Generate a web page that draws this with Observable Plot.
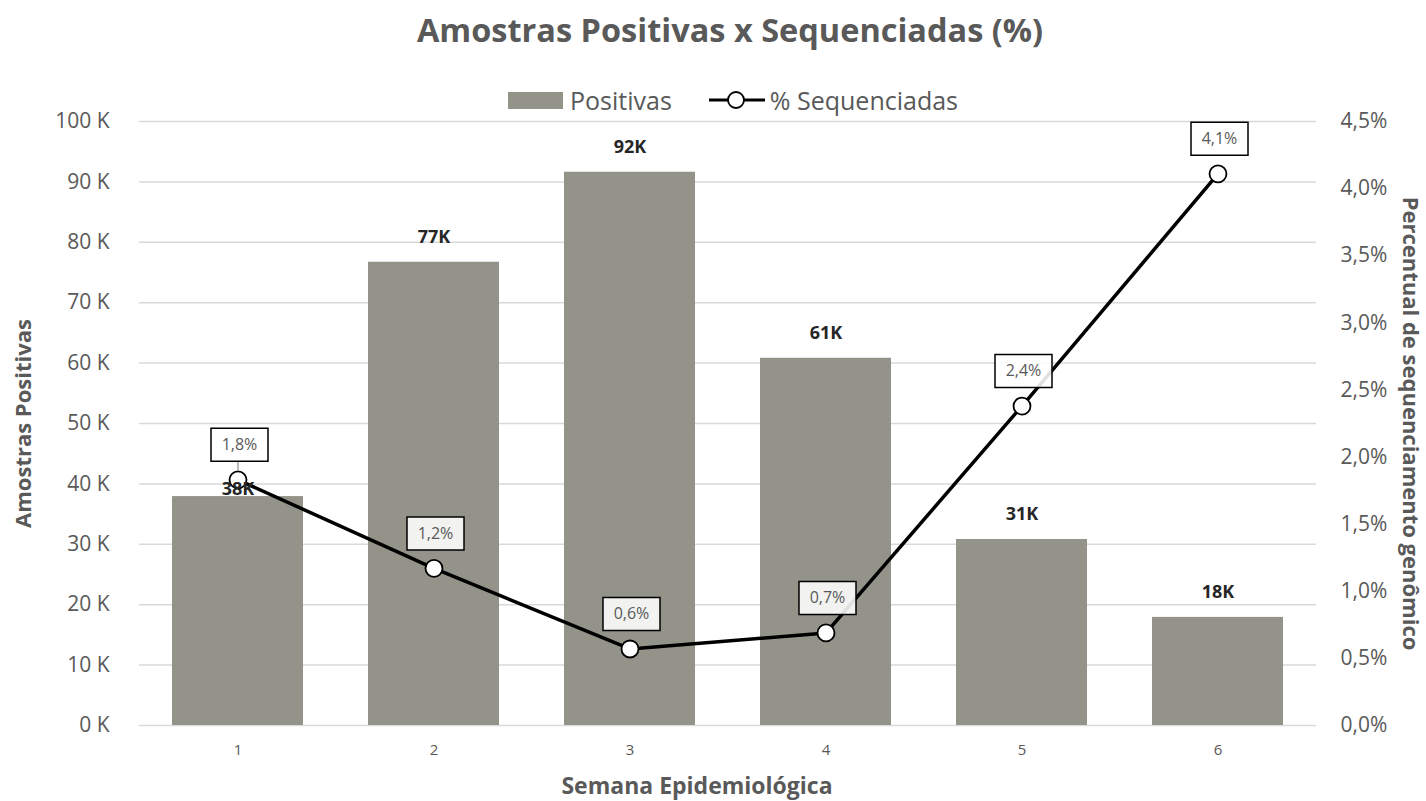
<!DOCTYPE html>
<html>
<head>
<meta charset="utf-8">
<script src="https://cdn.jsdelivr.net/npm/d3@7"></script>
<script src="https://cdn.jsdelivr.net/npm/@observablehq/plot@0.6"></script>
<style>
  body { margin: 0; background: #fff; font-family: "Open Sans", sans-serif; }
  #wrap { position: relative; width: 1426px; height: 801px; overflow: hidden; }
  #title { position: absolute; left: 0; top: 0; width: 1426px; height: 60px; line-height: 60px; text-align: center; font-weight: 700; font-size: 32.5px; color: #595959; padding-left: 34px; box-sizing: border-box; }
  #legend { position: absolute; left: 508px; top: 86px; height: 28px; display: flex; align-items: center; font-size: 25px; color: #595959; white-space: nowrap; z-index: 2; }
  #legend .sw { display: inline-block; width: 55px; height: 17px; background: #939389; margin-right: 7px; }
  #legend svg { margin-left: 36px; margin-right: 4px; }
  #chart { position: absolute; left: 0; top: 60px; }
</style>
</head>
<body>
<div id="wrap">
<div id="title">Amostras Positivas x Sequenciadas (%)</div>
<div id="legend"><span class="sw"></span><span>Positivas</span><svg width="58" height="20"><line x1="1" y1="10" x2="57" y2="10" stroke="#000" stroke-width="3.2"/><circle cx="28" cy="10" r="8" fill="#fff" stroke="#000" stroke-width="1.8"/></svg><span>% Sequenciadas</span></div>
<div id="chart"></div>
</div>
<script>
const weeks = [1, 2, 3, 4, 5, 6];
const positivas = [37900, 76700, 91600, 60800, 30800, 17900];
const positivasLabels = ["38K", "77K", "92K", "61K", "31K", "18K"];
const sequenciadas = [1.83, 1.17, 0.57, 0.69, 2.38, 4.11];
const sequenciadasLabels = ["1,8%", "1,2%", "0,6%", "0,7%", "2,4%", "4,1%"];
const leftTicks = [0, 10000, 20000, 30000, 40000, 50000, 60000, 70000, 80000, 90000, 100000];
const rightTicks = [0, 0.5, 1, 1.5, 2, 2.5, 3, 3.5, 4, 4.5];

const pctMax = 4.5, leftMax = 100000;
const toLeft = p => p * leftMax / pctMax;

const data = weeks.map((w, i) => ({
  week: w, pos: positivas[i], posLabel: positivasLabels[i],
  pct: sequenciadas[i], pctY: toLeft(sequenciadas[i]), pctLabel: sequenciadasLabels[i]
}));

const boxSymbol = { draw(ctx) { ctx.rect(-28.5, -16.5, 57, 33); } };
const leaderSymbol = { draw(ctx) { ctx.moveTo(0, -9); ctx.lineTo(0, -18); } };

const chart = Plot.plot({
  width: 1426,
  height: 741,
  marginTop: 61,
  marginBottom: 76,
  marginLeft: 139,
  marginRight: 110,
  style: { fontFamily: "Open Sans, sans-serif", color: "#595959", background: "transparent", overflow: "visible" },
  x: { type: "band", domain: weeks, paddingInner: 0.33, paddingOuter: 0.165 },
  y: { domain: [0, leftMax] },
  marks: [
    Plot.ruleY(leftTicks, { stroke: "#d9d9d9", strokeWidth: 1.5 }),
    Plot.barY(data, { x: "week", y: "pos", fill: "#939389" }),
    Plot.axisY(leftTicks, { anchor: "left", tickSize: 0, tickPadding: 30, fontSize: 21, fill: "#595959",
      tickFormat: d => `${d / 1000} K`, label: null }),
    Plot.axisY(rightTicks.map(toLeft), { anchor: "right", tickSize: 0, tickPadding: 24, fontSize: 21, fill: "#595959",
      tickFormat: d => (d * pctMax / leftMax).toFixed(1).replace(".", ",") + "%", label: null }),
    Plot.axisX(weeks, { anchor: "bottom", tickSize: 0, tickPadding: 19, fontSize: 15, fill: "#595959", label: null }),
    Plot.line(data, { x: "week", y: "pctY", stroke: "#000", strokeWidth: 3.5 }),
    Plot.dot(data, { x: "week", y: "pctY", r: 8.5, fill: "#fff", stroke: "#000", strokeWidth: 1.8 }),
    Plot.dot(data.filter(d => d.week === 1), { x: "week", y: "pctY", symbol: leaderSymbol, r: 5, stroke: "#a6a6a6", strokeWidth: 1.5, fill: "none" }),
    Plot.text(data.filter(d => d.week === 1), { x: "week", y: "pos", text: "posLabel", dy: -7, fontSize: 18, fontWeight: 700, fill: "#262626" }),
    Plot.text(data.filter(d => d.week !== 1), { x: "week", y: "pos", text: "posLabel", dy: -25, fontSize: 18, fontWeight: 700, fill: "#262626" }),
    Plot.dot(data, { x: "week", y: "pctY", symbol: boxSymbol, r: 5, dx: 1.5, dy: -35, fill: "#fff", fillOpacity: 0.88, stroke: "#000", strokeWidth: 1.5 }),
    Plot.text(data, { x: "week", y: "pctY", text: "pctLabel", dx: 1.5, dy: -35, fontSize: 16, fill: "#595959" }),
    Plot.text(["Amostras Positivas"], { frameAnchor: "left", textAnchor: "middle", lineAnchor: "middle", dx: -116, rotate: -90, fontSize: 22, fontWeight: 700, fill: "#595959" }),
    Plot.text(["Percentual de sequenciamento genômico"], { frameAnchor: "right", textAnchor: "middle", lineAnchor: "middle", dx: 94, rotate: 90, fontSize: 22, fontWeight: 700, fill: "#595959" }),
    Plot.text(["Semana Epidemiológica"], { frameAnchor: "bottom", textAnchor: "middle", lineAnchor: "middle", dx: -31, dy: 61, fontSize: 23, fontWeight: 700, fill: "#595959" })
  ]
});
document.getElementById("chart").appendChild(chart);
</script>
</body>
</html>
